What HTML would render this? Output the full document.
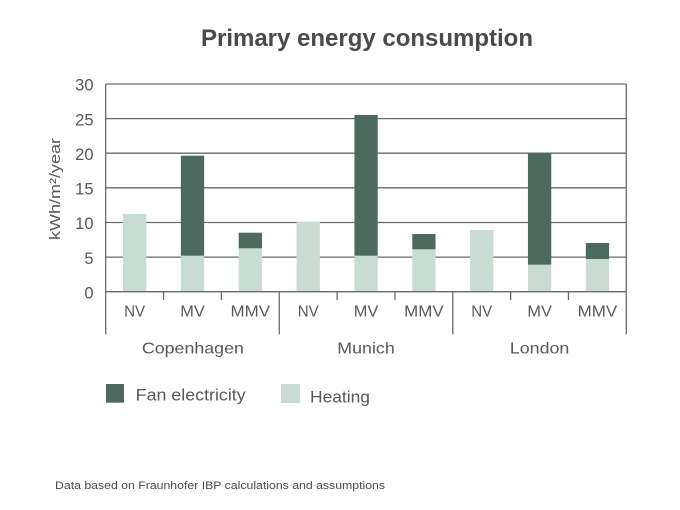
<!DOCTYPE html>
<html><head><meta charset="utf-8"><style>
html,body{margin:0;padding:0;background:#fff;}
svg{display:block;}
text{font-family:"Liberation Sans",sans-serif;fill:#585858;}
</style></head><body>
<svg width="680" height="510" viewBox="0 0 680 510" xmlns="http://www.w3.org/2000/svg">
<rect width="680" height="510" fill="#fff"/>
<text x="201" y="46" font-size="24.5" font-weight="bold" fill="#4a4a4a" style="fill:#4a4a4a" textLength="332" lengthAdjust="spacingAndGlyphs">Primary energy consumption</text>
<g stroke="#6a6a6a" stroke-width="1.3" fill="none">
<line x1="105.7" y1="84" x2="626.3" y2="84"/>
<line x1="105.7" y1="118.6" x2="626.3" y2="118.6"/>
<line x1="105.7" y1="153.2" x2="626.3" y2="153.2"/>
<line x1="105.7" y1="187.8" x2="626.3" y2="187.8"/>
<line x1="105.7" y1="222.5" x2="626.3" y2="222.5"/>
<line x1="105.7" y1="257.1" x2="626.3" y2="257.1"/>
</g>
<g fill="#c8dcd3">
<rect x="123" y="214" width="23.3" height="77.7"/>
<rect x="180.85" y="255.7" width="23.3" height="36"/>
<rect x="238.7" y="248.3" width="23.3" height="43.4"/>
<rect x="296.55" y="222" width="23.3" height="69.7"/>
<rect x="354.4" y="255.7" width="23.3" height="36"/>
<rect x="412.25" y="249.3" width="23.3" height="42.4"/>
<rect x="470.1" y="230" width="23.3" height="61.7"/>
<rect x="527.95" y="264.7" width="23.3" height="27"/>
<rect x="585.8" y="259" width="23.3" height="32.7"/>
</g>
<g fill="#4d6a5e">
<rect x="180.85" y="155.7" width="23.3" height="100"/>
<rect x="238.7" y="232.7" width="23.3" height="15.6"/>
<rect x="354.4" y="115" width="23.3" height="140.7"/>
<rect x="412.25" y="234" width="23.3" height="15.3"/>
<rect x="527.95" y="153" width="23.3" height="111.7"/>
<rect x="585.8" y="243" width="23.3" height="16"/>
</g>
<g stroke="#6a6a6a" stroke-width="1.3" fill="none">
<line x1="105.7" y1="291.7" x2="626.3" y2="291.7"/>
<line x1="105.7" y1="84" x2="105.7" y2="334.3"/>
<line x1="626.3" y1="84" x2="626.3" y2="334.3"/>
<line x1="279.25" y1="291.7" x2="279.25" y2="334.3"/>
<line x1="452.8" y1="291.7" x2="452.8" y2="334.3"/>
<line x1="163.55" y1="291.7" x2="163.55" y2="300"/>
<line x1="221.4" y1="291.7" x2="221.4" y2="300"/>
<line x1="337.1" y1="291.7" x2="337.1" y2="300"/>
<line x1="394.95" y1="291.7" x2="394.95" y2="300"/>
<line x1="510.65" y1="291.7" x2="510.65" y2="300"/>
<line x1="568.5" y1="291.7" x2="568.5" y2="300"/>
</g>
<g font-size="16.5" text-anchor="end">
<text x="93.5" y="90.7">30</text>
<text x="93.5" y="125.3">25</text>
<text x="93.5" y="159.9">20</text>
<text x="93.5" y="194.5">15</text>
<text x="93.5" y="229.2">10</text>
<text x="93.5" y="263.8">5</text>
<text x="93.5" y="298.4">0</text>
</g>
<text transform="translate(60,189) rotate(-90)" font-size="15" text-anchor="middle" textLength="102" lengthAdjust="spacingAndGlyphs">kWh/m²/year</text>
<g font-size="15.5" text-anchor="middle">
<text x="134.6" y="316.7" textLength="21" lengthAdjust="spacingAndGlyphs">NV</text>
<text x="192.5" y="316.7" textLength="24.5" lengthAdjust="spacingAndGlyphs">MV</text>
<text x="250.3" y="316.7" textLength="39.5" lengthAdjust="spacingAndGlyphs">MMV</text>
<text x="308.2" y="316.7" textLength="21" lengthAdjust="spacingAndGlyphs">NV</text>
<text x="366" y="316.7" textLength="24.5" lengthAdjust="spacingAndGlyphs">MV</text>
<text x="423.9" y="316.7" textLength="39.5" lengthAdjust="spacingAndGlyphs">MMV</text>
<text x="481.7" y="316.7" textLength="21" lengthAdjust="spacingAndGlyphs">NV</text>
<text x="539.6" y="316.7" textLength="24.5" lengthAdjust="spacingAndGlyphs">MV</text>
<text x="597.4" y="316.7" textLength="39.5" lengthAdjust="spacingAndGlyphs">MMV</text>
</g>
<g font-size="16" text-anchor="middle">
<text x="192.9" y="353.3" textLength="102" lengthAdjust="spacingAndGlyphs">Copenhagen</text>
<text x="366" y="353.3" textLength="57.5" lengthAdjust="spacingAndGlyphs">Munich</text>
<text x="539.6" y="353.3" textLength="59.5" lengthAdjust="spacingAndGlyphs">London</text>
</g>
<rect x="106" y="384" width="18" height="18.7" fill="#4d6a5e"/>
<text x="135.7" y="400.7" font-size="17" textLength="110" lengthAdjust="spacingAndGlyphs">Fan electricity</text>
<rect x="281" y="384" width="19" height="19" fill="#c8dcd3"/>
<text x="310" y="402.3" font-size="17" textLength="60" lengthAdjust="spacingAndGlyphs">Heating</text>
<text x="55" y="489" font-size="10.8" fill="#4a4a4a" style="fill:#4a4a4a" textLength="330" lengthAdjust="spacingAndGlyphs">Data based on Fraunhofer IBP calculations and assumptions</text>
</svg>
</body></html>
